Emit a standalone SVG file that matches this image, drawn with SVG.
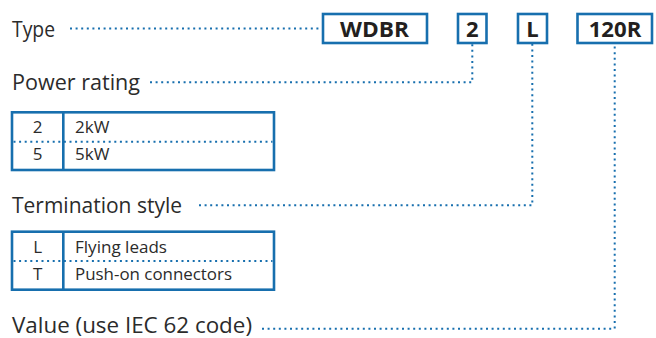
<svg xmlns="http://www.w3.org/2000/svg" width="656" height="338" viewBox="0 0 656 338">
  <style>
    .lbl { font-family: "Open Sans", "Noto Sans", sans-serif; font-size: 22px; fill: #2b2b2b; }
    .cell { font-family: "Open Sans", "Noto Sans", sans-serif; font-size: 17px; fill: #2b2b2b; }
    .code { font-family: "Open Sans", "Noto Sans", sans-serif; font-size: 22px; font-weight: bold; fill: #231f20; }
    .box { fill: #fff; stroke: #176fae; stroke-width: 2.6; }
    .dot { fill: none; stroke: #176fae; stroke-width: 2; stroke-dasharray: 2 3.6; }
    .rule { fill: none; stroke: #176fae; stroke-width: 2.6; }
  </style>
  <rect width="656" height="338" fill="#fff"/>

  <!-- leader lines -->
  <g id="connectors">
    <path class="dot" d="M70 28.5 H322"/>
    <path class="dot" d="M150 82.3 H472.3 V44"/>
    <path class="dot" d="M199 205.3 H532.3 V44"/>
    <path class="dot" d="M262 328.7 H614.7 V44"/>
  </g>

  <!-- part-number code boxes -->
  <g id="code-wdbr">
    <rect class="box" x="323" y="14" width="104" height="29"/>
    <text class="code" x="340" y="36.5" textLength="69" lengthAdjust="spacingAndGlyphs">WDBR</text>
  </g>
  <g id="code-2">
    <rect class="box" x="458" y="14" width="28.5" height="29"/>
    <text class="code" x="472.3" y="36.5" text-anchor="middle">2</text>
  </g>
  <g id="code-l">
    <rect class="box" x="518" y="14" width="29" height="29"/>
    <text class="code" x="532.5" y="36.5" text-anchor="middle">L</text>
  </g>
  <g id="code-120r">
    <rect class="box" x="577.5" y="14" width="74.5" height="29"/>
    <text class="code" x="588.7" y="36.5" textLength="52.6" lengthAdjust="spacingAndGlyphs">120R</text>
  </g>

  <!-- field labels -->
  <g id="label-type">
    <text class="lbl" x="12" y="36.5" textLength="43" lengthAdjust="spacingAndGlyphs">Type</text>
  </g>
  <g id="label-power">
    <text class="lbl" x="12" y="89.5" textLength="128" lengthAdjust="spacingAndGlyphs">Power rating</text>
  </g>
  <g id="label-termination">
    <text class="lbl" x="12" y="212.5" textLength="170" lengthAdjust="spacingAndGlyphs">Termination style</text>
  </g>
  <g id="label-value">
    <text class="lbl" x="12" y="333" textLength="240" lengthAdjust="spacingAndGlyphs">Value (use IEC 62 code)</text>
  </g>

  <!-- power rating table -->
  <g id="table-power">
    <rect class="rule" x="12" y="112.3" width="262" height="57.7"/>
    <path class="rule" d="M63.3 112.3 V170"/>
    <path class="dot" d="M13.5 141.7 H272.5" stroke-width="1.6" stroke-dasharray="1.6 2.6"/>
    <text class="cell" x="37.7" y="133" text-anchor="middle">2</text>
    <text class="cell" x="75" y="133">2kW</text>
    <text class="cell" x="37.7" y="160" text-anchor="middle">5</text>
    <text class="cell" x="75" y="160">5kW</text>
  </g>

  <!-- termination style table -->
  <g id="table-termination">
    <rect class="rule" x="12" y="231.7" width="262" height="58"/>
    <path class="rule" d="M63.3 231.7 V289.7"/>
    <path class="dot" d="M13.5 261 H272.5" stroke-width="1.6" stroke-dasharray="1.6 2.6"/>
    <text class="cell" x="37.7" y="252.5" text-anchor="middle">L</text>
    <text class="cell" x="75" y="252.5" textLength="92" lengthAdjust="spacingAndGlyphs">Flying leads</text>
    <text class="cell" x="37.7" y="280" text-anchor="middle">T</text>
    <text class="cell" x="75" y="280" textLength="157" lengthAdjust="spacingAndGlyphs">Push-on connectors</text>
  </g>
</svg>
